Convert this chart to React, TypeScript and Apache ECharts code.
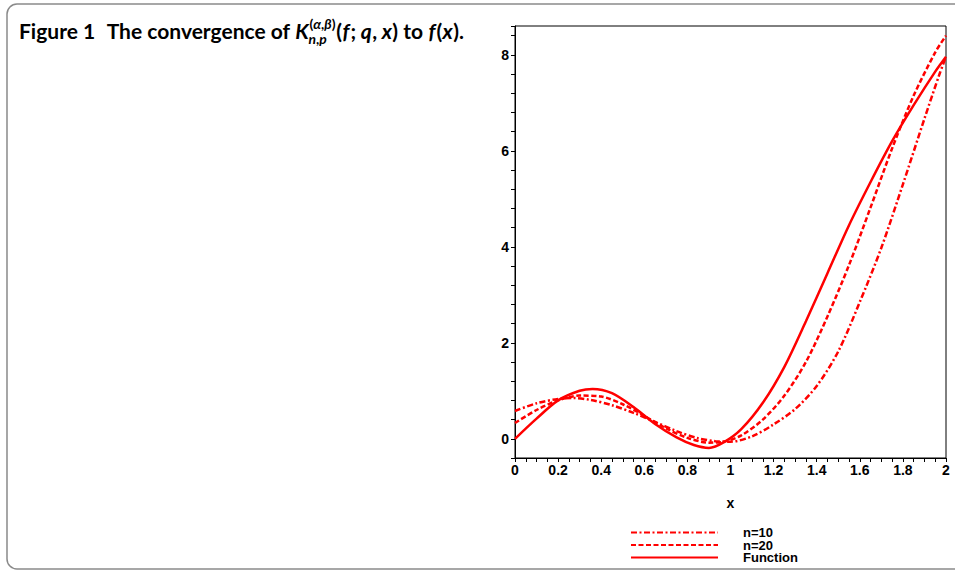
import React, { useEffect, useRef } from "react";
import * as echarts from "echarts";

const functionX = [0, 0.1, 0.2, 0.3, 0.36, 0.45, 0.55, 0.65, 0.75, 0.83, 0.9, 0.97, 1.05, 1.15, 1.25, 1.35, 1.45, 1.55, 1.65, 1.75, 1.85, 1.95, 2.0];
const functionY = [0, 0.42, 0.8, 1.0, 1.04, 0.95, 0.66, 0.31, 0.03, -0.13, -0.19, -0.07, 0.2, 0.75, 1.5, 2.45, 3.45, 4.45, 5.35, 6.2, 6.95, 7.65, 7.96];
const n20X = [0, 0.1, 0.2, 0.3, 0.4, 0.5, 0.6, 0.7, 0.8, 0.9, 0.97, 1.05, 1.15, 1.25, 1.35, 1.45, 1.55, 1.65, 1.75, 1.85, 1.95, 2.0];
const n20Y = [0.33, 0.6, 0.8, 0.9, 0.88, 0.72, 0.48, 0.22, 0.02, -0.08, -0.06, 0.07, 0.4, 0.9, 1.6, 2.55, 3.62, 4.82, 6.05, 7.15, 8.05, 8.4];
const n10X = [0, 0.1, 0.2, 0.27, 0.35, 0.45, 0.55, 0.65, 0.75, 0.85, 0.93, 1.0, 1.1, 1.2, 1.3, 1.4, 1.5, 1.6, 1.7, 1.8, 1.9, 1.97, 2.0];
const n10Y = [0.58, 0.74, 0.83, 0.85, 0.81, 0.7, 0.54, 0.35, 0.16, 0.01, -0.05, -0.06, 0.05, 0.3, 0.62, 1.1, 1.82, 2.85, 3.98, 5.3, 6.67, 7.6, 7.96];
const xTickLabels = ["0", "0.2", "0.4", "0.6", "0.8", "1", "1.2", "1.4", "1.6", "1.8", "2"];
const yTickLabels = ["0", "2", "4", "6", "8"];
const seriesNames = ["n=10", "n=20", "Function"];

export default function App() {
  const ref = useRef<HTMLDivElement>(null);
  useEffect(() => {
    const chart = echarts.init(ref.current!, null, { renderer: "svg" });
    const axisFont = "'Liberation Sans Narrow', 'Liberation Sans', Arial, sans-serif";
    const titleFont = "Lato, 'Open Sans', sans-serif";
    const pairs = (xs: number[], ys: number[]) => xs.map((x, i) => [x, ys[i]]);
    const red = "#ff0000";

    // ---- title: flowing pieces measured with a canvas ----
    const ctx = document.createElement("canvas").getContext("2d")!;
    const fontOf = (it: boolean, size: number) => `${it ? "italic " : ""}bold ${size}px ${titleFont}`;
    const measure = (t: string, f: string) => {
      ctx.font = f;
      return ctx.measureText(t).width;
    };
    // [text, italic, extra gap after (in em)]
    type Piece = [string, boolean, number];
    const before: Piece[] = [["Figure 1", false, 0.55], ["The convergence of", false, 0.25], ["K", true, 0.03]];
    const sup: Piece[] = [["(", false, 0], ["α", true, 0], [",", false, 0], ["β", true, 0], [")", false, 0]];
    const sub: Piece[] = [["n", true, 0], [",", false, 0], ["p", true, 0]];
    const after: Piece[] = [
      ["(", false, 0.02], ["f", true, 0.05], [";", false, 0.22], ["q", true, 0.02], [",", false, 0.22], ["x", true, 0.02],
      [")", false, 0.25], ["to", false, 0.25], ["f", true, 0.05], ["(", false, 0.02], ["x", true, 0.02], [")", false, 0], [".", false, 0],
    ];
    const layoutTitle = (fs: number, startX: number) => {
      const els: any[] = [];
      const small = fs * 0.66;
      const midY = 30;
      let cx = startX;
      const put = (p: Piece, size: number, y: number, x: number) => {
        const f = fontOf(p[1], size);
        els.push({ type: "text", x, y, style: { text: p[0], font: f, fill: "#000", verticalAlign: "middle", align: "left" } });
        return measure(p[0], f) + p[2] * fs;
      };
      for (const p of before) cx += put(p, fs, midY, cx);
      let sx = cx;
      for (const p of sup) sx += put(p, small, midY - 7, sx);
      let bx = cx - fs * 0.04;
      for (const p of sub) bx += put(p, small, midY + 8, bx);
      cx = Math.max(sx, bx) + fs * 0.04;
      for (const p of after) cx += put(p, fs, midY, cx);
      return { els, end: cx };
    };
    const startX = 19;
    const targetEnd = 468;
    const w18 = layoutTitle(18, 0).end;
    let fsTitle = (18 * (targetEnd - startX)) / w18;
    fsTitle = Math.max(15, Math.min(21, fsTitle));
    const titleGraphics = layoutTitle(fsTitle, startX).els;

    chart.setOption({
      animation: false,
      backgroundColor: "#ffffff",
      grid: {
        left: 515,
        top: 26,
        width: 431,
        height: 432,
        show: true,
        borderColor: "#000",
        borderWidth: 1,
        backgroundColor: "transparent",
      },
      xAxis: {
        type: "value",
        min: 0,
        max: 2,
        interval: 0.05,
        name: "x",
        nameLocation: "middle",
        nameGap: 38,
        nameTextStyle: { fontFamily: axisFont, fontWeight: "bold", fontSize: 14, color: "#000" },
        axisLine: { show: true, onZero: false, lineStyle: { color: "#000", width: 1 } },
        axisTick: { show: true, length: 4, lineStyle: { color: "#000", width: 1 } },
        splitLine: { show: false },
        axisLabel: {
          margin: 5,
          fontFamily: axisFont,
          fontWeight: "bold",
          fontSize: 14,
          color: "#000",
          formatter: (v: number) => {
            const k = Math.round(v * 5);
            if (Math.abs(v * 5 - k) > 1e-6) return "";
            return xTickLabels[k] ?? "";
          },
        },
      },
      yAxis: {
        type: "value",
        min: -0.4,
        max: 8.6,
        interval: 0.4,
        axisLine: { show: true, onZero: false, lineStyle: { color: "#000", width: 1 } },
        axisTick: { show: true, length: 4, lineStyle: { color: "#000", width: 1 } },
        splitLine: { show: false },
        axisLabel: {
          margin: 6,
          fontFamily: axisFont,
          fontWeight: "bold",
          fontSize: 14,
          color: "#000",
          formatter: (v: number) => {
            const k = Math.round(v / 2);
            if (Math.abs(v / 2 - k) > 1e-6 || k < 0) return "";
            return yTickLabels[k] ?? "";
          },
        },
      },
      legend: {
        orient: "vertical",
        left: 630,
        top: 526,
        height: 80,
        padding: 0,
        itemWidth: 87,
        itemHeight: 10,
        itemGap: -0.5,
        data: seriesNames,
        itemStyle: { opacity: 0 },
        textStyle: {
          fontFamily: axisFont,
          fontWeight: "bold",
          fontSize: 13,
          color: "#000",
          lineHeight: 10,
          padding: [0, 0, 0, 20],
        },
      },
      graphic: [
        {
          type: "rect",
          shape: { x: 7, y: 4, width: 1000, height: 565, r: 10 },
          style: { fill: "none", stroke: "#8a8a8a", lineWidth: 1.5 },
          z: -10,
        },
        ...titleGraphics,
      ],
      series: [
        {
          name: seriesNames[0],
          type: "line",
          data: pairs(n10X, n10Y),
          showSymbol: false,
          symbol: "none",
          smooth: 0.3,
          lineStyle: { color: red, width: 2.5, type: [6, 2.5, 2, 2.5] },
          itemStyle: { color: red },
        },
        {
          name: seriesNames[1],
          type: "line",
          data: pairs(n20X, n20Y),
          showSymbol: false,
          symbol: "none",
          smooth: 0.3,
          lineStyle: { color: red, width: 2.5, type: [5, 2.5] },
          itemStyle: { color: red },
        },
        {
          name: seriesNames[2],
          type: "line",
          data: pairs(functionX, functionY),
          showSymbol: false,
          symbol: "none",
          smooth: 0.3,
          lineStyle: { color: red, width: 2.5, type: "solid" },
          itemStyle: { color: red },
        },
      ],
    });
    return () => chart.dispose();
  }, []);
  return <div ref={ref} style={{ position: "absolute", left: 0, top: 0, width: 955, height: 572 }} />;
}
